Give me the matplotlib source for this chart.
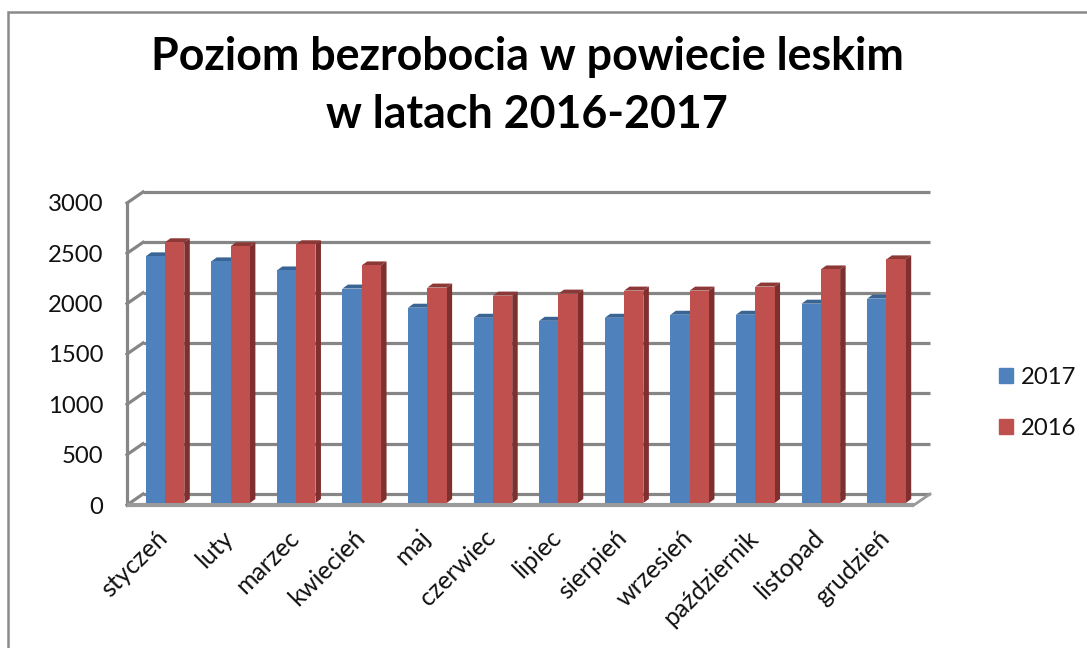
import matplotlib
matplotlib.use("Agg")
import matplotlib.pyplot as plt
from matplotlib.patches import Patch, Rectangle
from matplotlib.transforms import ScaledTranslation

# values
months = ['styczeń', 'luty', 'marzec', 'kwiecień', 'maj', 'czerwiec', 'lipiec',
          'sierpień', 'wrzesień', 'październik', 'listopad', 'grudzień']
y2017 = [2450, 2400, 2310, 2130, 1940, 1840, 1810, 1840, 1870, 1870, 1980, 2030]
y2016 = [2590, 2550, 2570, 2360, 2140, 2060, 2080, 2110, 2110, 2150, 2320, 2420]
yticks = [0, 500, 1000, 1500, 2000, 2500, 3000]

W, H = 1087, 648
plt.rcParams['font.family'] = ['Lato', 'DejaVu Sans']
fig = plt.figure(figsize=(W / 100, H / 100), dpi=100)

# frame of the chart area
fig.add_artist(Rectangle((8 / W, -0.1), 1.2, 0.1 + (H - 12) / H, transform=fig.transFigure,
                         fill=False, ec='#8a8a8a', lw=1.8))

# front plane of the fake 3d box, in pixels
left, right, top, bottom = 127, 914, 203, 505
ax = fig.add_axes([left / W, 1 - bottom / H, (right - left) / W, (bottom - top) / H])
ax.patch.set_visible(False)
ax.set_xlim(-0.5, 11.5)
ax.set_ylim(0, 3000)
for s in ax.spines.values():
    s.set_visible(False)

px_x = 12 / (right - left)
px_y = 3000 / (bottom - top)
wall_dx, wall_dy = 16 * px_x, 11 * px_y
grid_c = '#868686'
grid_lw = 2.3

# back wall grid and the slanted bits on the left wall
for v in yticks:
    ax.plot([-0.5 + wall_dx, 11.5 + wall_dx], [v + wall_dy, v + wall_dy], color=grid_c, lw=grid_lw,
            clip_on=False, zorder=1, solid_capstyle='butt')
    ax.plot([-0.5, -0.5 + wall_dx], [v, v + wall_dy], color=grid_c, lw=grid_lw, clip_on=False, zorder=1)
ax.plot([-0.5, -0.5], [0, 3000], color=grid_c, lw=grid_lw, clip_on=False, zorder=1)
ax.plot([-0.5, 11.5], [0, 0], color='#9a9a9a', lw=3, clip_on=False, zorder=1, solid_capstyle='butt')
ax.plot([11.5, 11.5 + wall_dx], [0, wall_dy], color='#9a9a9a', lw=2, clip_on=False, zorder=1)

# bars: front face plus top and side faces
bar_w = 19.3 * px_x
shift = 5.2 * px_x
lift = 2 * px_y
depth_x, depth_y = 5.5 * px_x, 4 * px_y
series = [(y2017, -bar_w / 2, '#4F81BD', '#3A6494', '#385D8A'),
          (y2016, bar_w / 2, '#C0504D', '#8C3836', '#7F2F2D')]
for vals, off, face, top_c, side_c in series:
    for i, v in enumerate(vals):
        x0 = i + shift + off - bar_w / 2
        x1 = x0 + bar_w
        h = v + lift
        ax.fill([x0, x1, x1 + depth_x, x0 + depth_x], [h, h, h + depth_y, h + depth_y],
                color=top_c, lw=0, clip_on=False, zorder=3)
        ax.fill([x1, x1 + depth_x, x1 + depth_x, x1], [lift, lift + depth_y, h + depth_y, h],
                color=side_c, lw=0, clip_on=False, zorder=3)
    ax.bar([i + shift + off for i in range(12)], vals, bar_w, bottom=lift, color=face, zorder=4)

ax.set_yticks(yticks)
ax.set_yticklabels([str(v) for v in yticks], fontsize=17.2, color='#111111')
ax.tick_params(axis='y', length=0, pad=17)
ax.set_xticks(range(12))
ax.set_xticklabels(months, fontsize=18, rotation=45, ha='right', va='top',
                   rotation_mode='anchor', color='#111111')
ax.tick_params(axis='x', length=0, pad=15)
nudge = ScaledTranslation(-4 / 100, 0, fig.dpi_scale_trans)
for lab in ax.get_xticklabels():
    lab.set_transform(lab.get_transform() + nudge)

fig.text(527 / W, 1 - 86 / H, 'Poziom bezrobocia w powiecie leskim\nw latach 2016-2017',
         ha='center', va='center', fontsize=32.2, fontweight='bold', color='black', linespacing=1.5)

handles = [Patch(color='#4F81BD', label='2017'), Patch(color='#C0504D', label='2016')]
fig.legend(handles=handles, loc='center left', bbox_to_anchor=(977 / W, 1 - 403 / H), frameon=False,
           fontsize=17.2, handlelength=0.6, handleheight=0.6, handletextpad=0.33, labelspacing=1.25,
           labelcolor='#111111')

fig.savefig('out.png', dpi=100)
